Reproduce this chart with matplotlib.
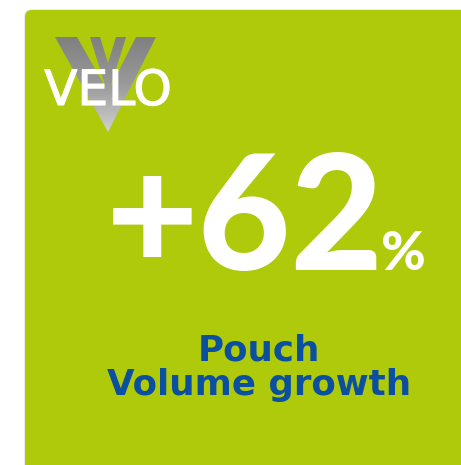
import matplotlib
matplotlib.use("Agg")
import matplotlib.pyplot as plt
import numpy as np
from matplotlib.patches import FancyBboxPatch, Polygon
from matplotlib.colors import LinearSegmentedColormap
import matplotlib.patheffects as pe

# ---- data ----
brand = "VELO"
growth_values = [62]
growth_sign = "+"
growth_unit = "%"
caption_lines = ["Pouch", "Volume growth"]

GREEN = "#AFCA0B"
BLUE = "#0A4FA0"

fig = plt.figure(figsize=(4.61, 4.65), dpi=100)
fig.patch.set_facecolor("white")
ax = fig.add_axes([0, 0, 1, 1])

# card shadow + card
ax.add_patch(FancyBboxPatch((24, 9), 480, 480, boxstyle="round,pad=0,rounding_size=8",
                            fc="#ececec", ec="none", zorder=1))
ax.add_patch(FancyBboxPatch((25, 10), 480, 480, boxstyle="round,pad=0,rounding_size=7",
                            fc=GREEN, ec="none", zorder=2))

# logo: grey V stripes with vertical gradient
cmap = LinearSegmentedColormap.from_list("logo", ["#7e7e7e", "#9a9a9a", "#d4d4d4"])
outer = Polygon([(55, 37), (77, 37), (108, 92), (136, 37), (156, 37), (108, 132)],
                closed=True, fc="none", ec="none", zorder=3)
inner = Polygon([(90, 37), (100, 37), (108, 63), (116, 37), (126, 37), (108, 95)],
                closed=True, fc="none", ec="none", zorder=3)
grad = np.linspace(0, 1, 100).reshape(-1, 1)
for poly in (outer, inner):
    ax.add_patch(poly)
    im = ax.imshow(grad, extent=(50, 160, 135, 35), cmap=cmap,
                   vmin=0, vmax=1, aspect="auto", zorder=3)
    im.set_clip_path(poly)

ax.set_xlim(0, 461)
ax.set_ylim(465, 0)
ax.axis("off")

ax.text(108, 105, brand, color="white", fontsize=35, family="DejaVu Sans",
        ha="center", va="baseline", zorder=5,
        path_effects=[pe.withStroke(linewidth=0.8, foreground="white")])

# big number
ax.text(384, 270, f"{growth_sign}{growth_values[0]}", color="white", fontsize=115,
        family="Lato", fontweight="black", ha="right", va="baseline", zorder=5)
ax.text(381, 270, growth_unit, color="white", fontsize=39,
        family="Lato", fontweight="black", ha="left", va="baseline", zorder=5)

# caption
ax.text(259, 360, caption_lines[0], color=BLUE, fontsize=25.7,
        family="DejaVu Sans", fontweight="bold", ha="center", va="baseline", zorder=5)
ax.text(259, 395, caption_lines[1], color=BLUE, fontsize=25.7,
        family="DejaVu Sans", fontweight="bold", ha="center", va="baseline", zorder=5)

fig.savefig("out.png", dpi=100, facecolor="white")
